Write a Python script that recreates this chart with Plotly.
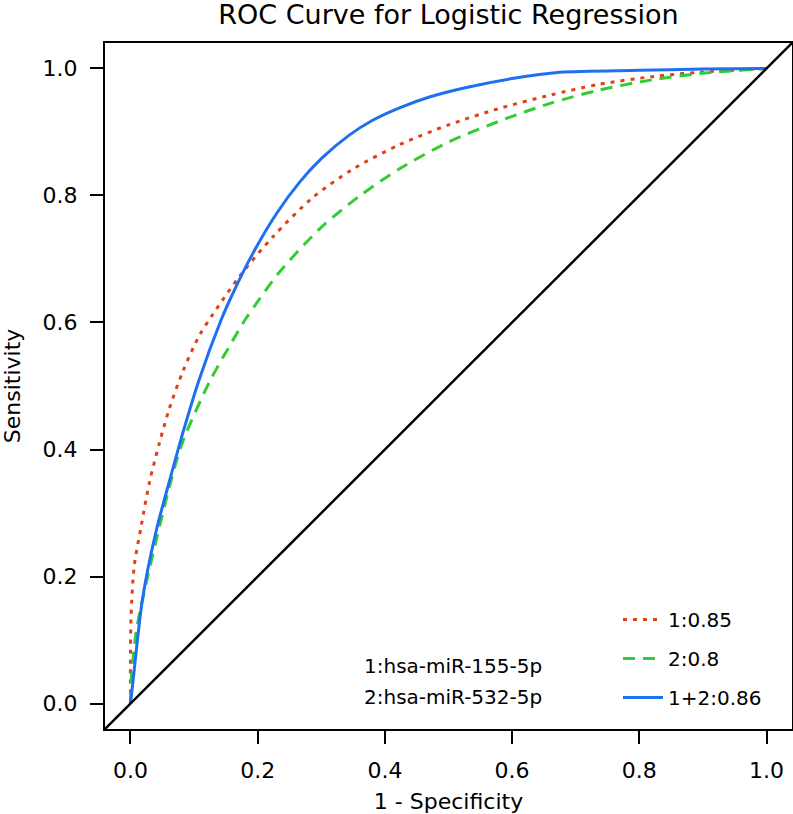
import plotly.graph_objects as go

# ---- data ----
fpr_1 = [0, 0, 0.001, 0.006, 0.017, 0.03, 0.046, 0.061, 0.082, 0.108, 0.129, 0.171,
         0.224, 0.287, 0.349, 0.423, 0.5, 0.58, 0.66, 0.737, 0.82, 0.895, 1.0]
tpr_1 = [0, 0.06, 0.139, 0.217, 0.28, 0.349, 0.412, 0.464, 0.522, 0.579, 0.612, 0.672,
         0.735, 0.797, 0.841, 0.880, 0.911, 0.937, 0.958, 0.975, 0.987, 0.994, 1.0]

fpr_2 = [0, 0.001, 0.009, 0.025, 0.046, 0.064, 0.082, 0.124, 0.161, 0.182, 0.203, 0.234,
         0.297, 0.36, 0.423, 0.5, 0.58, 0.66, 0.737, 0.82, 0.895, 1.0]
tpr_2 = [0, 0.034, 0.113, 0.191, 0.28, 0.352, 0.412, 0.506, 0.572, 0.607, 0.637, 0.679,
         0.747, 0.799, 0.842, 0.884, 0.917, 0.945, 0.966, 0.982, 0.992, 1.0]

fpr_12 = [0, 0.004, 0.019, 0.04, 0.064, 0.082, 0.108, 0.143, 0.156, 0.192, 0.23, 0.266,
          0.3, 0.344, 0.38, 0.423, 0.47, 0.528, 0.6, 0.675, 0.8, 0.9, 1.0]
tpr_12 = [0, 0.035, 0.165, 0.27, 0.36, 0.425, 0.51, 0.605, 0.635, 0.708, 0.772, 0.821,
          0.858, 0.895, 0.918, 0.938, 0.955, 0.970, 0.984, 0.994, 0.997, 0.999, 1.0]

series_names = ["1:0.85", "2:0.8", "1+2:0.86"]
marker_names = ["1:hsa-miR-155-5p", "2:hsa-miR-532-5p"]
tick_vals = [0, 0.2, 0.4, 0.6, 0.8, 1.0]
tick_text = ["0.0", "0.2", "0.4", "0.6", "0.8", "1.0"]
axis_range = [-0.04, 1.04]

FONT = "DejaVu Sans"
RED = "#E0401A"
GREEN = "#33CC33"
BLUE = "#1F6FF2"

# plot area in pixels
L, R, T, B = 105, 792, 43, 729
W, H = R - L, B - T

fig = go.Figure()

fig.add_trace(go.Scatter(x=fpr_1, y=tpr_1, mode="lines", name=series_names[0],
                         legendgroup="a",
                         line=dict(color=RED, width=3, dash="4px,6px", shape="spline", smoothing=0.8)))
fig.add_trace(go.Scatter(x=fpr_2, y=tpr_2, mode="lines", name=series_names[1],
                         legendgroup="b",
                         line=dict(color=GREEN, width=3, dash="12px,8px", shape="spline", smoothing=0.8)))
fig.add_trace(go.Scatter(x=fpr_12, y=tpr_12, mode="lines", name=series_names[2],
                         legendgroup="c",
                         line=dict(color=BLUE, width=3, shape="spline", smoothing=0.8)))

# diagonal reference line (abline 0,1)
fig.add_shape(type="line", xref="x", yref="y", x0=axis_range[0], y0=axis_range[0],
              x1=axis_range[1], y1=axis_range[1], line=dict(color="black", width=2.5),
              layer="above")

for i, t in enumerate(marker_names):
    fig.add_annotation(text=t, xref="paper", yref="paper",
                       x=(362 - L) / W, y=[(B - 666) / H, (B - 697) / H][i],
                       xanchor="left", yanchor="middle", showarrow=False,
                       font=dict(family=FONT, size=20, color="black"))

axis_common = dict(range=axis_range, tickvals=tick_vals, ticktext=tick_text,
                   ticks="outside", ticklen=13, tickwidth=2, tickcolor="black",
                   showline=True, linecolor="black", linewidth=2, mirror=True,
                   showgrid=False, zeroline=False, automargin=False,
                   tickfont=dict(family=FONT, size=22, color="black"))

fig.update_layout(
    width=793, height=814,
    margin=dict(l=L, r=793 - R, t=T, b=814 - B, autoexpand=False),
    paper_bgcolor="white", plot_bgcolor="white",
    title=dict(text="ROC Curve for Logistic Regression", x=(L + R) / 2 / 793,
               xanchor="center", xref="container", yref="container",
               y=(814 - 15) / 814, yanchor="middle", automargin=False,
               font=dict(family=FONT, size=27, color="black")),
    xaxis=dict(**axis_common, ticklabelstandoff=8,
               title=dict(text="1 - Specificity", standoff=12,
                          font=dict(family=FONT, size=22, color="black"))),
    yaxis=dict(**axis_common, ticklabelstandoff=8,
               title=dict(text="Sensitivity", standoff=22,
                          font=dict(family=FONT, size=22, color="black"))),
    showlegend=True,
    legend=dict(x=(618 - L) / W, xanchor="left", y=(B - 600) / H, yanchor="top",
                traceorder="grouped", tracegroupgap=10, bgcolor="rgba(0,0,0,0)",
                font=dict(family=FONT, size=20, color="black"), itemwidth=40),
)

fig.write_html("out.html", config={"displayModeBar": False},
               post_script="document.body.style.margin='0px';document.body.style.overflow='hidden';")
